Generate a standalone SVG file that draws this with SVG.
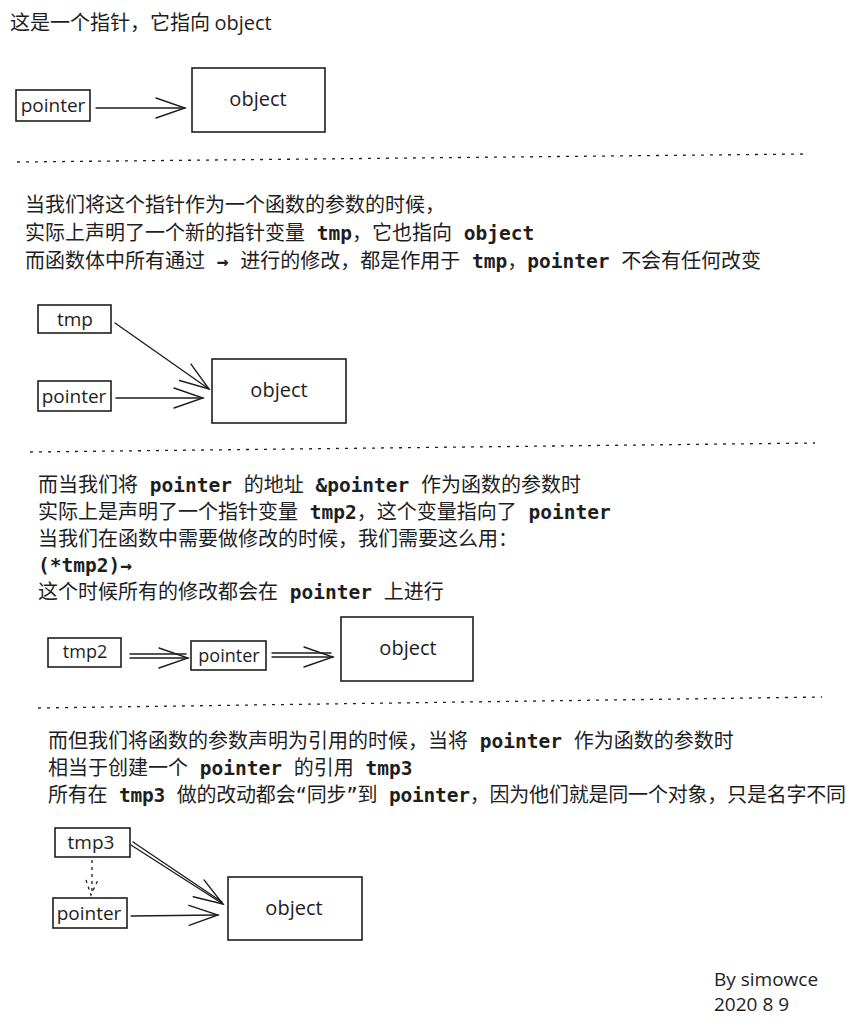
<svg xmlns="http://www.w3.org/2000/svg" width="865" height="1030" viewBox="0 0 865 1030">
<defs>
<style>
.t{font-family:"Noto Sans CJK SC","Noto Sans CJK JP",sans-serif;font-size:20px;fill:#1e1e1e;white-space:pre}
.m{font-family:"DejaVu Sans Mono","Liberation Mono",monospace;font-weight:bold;font-size:19.5px}
.q{font-family:"DejaVu Sans Mono","Liberation Mono",monospace;font-size:19px}
.h{font-family:"Open Sans","Liberation Sans",sans-serif;fill:#1e1e1e;text-anchor:middle}
.box{fill:none;stroke:#1e1e1e;stroke-width:1.6}
.ln{fill:none;stroke:#1e1e1e;stroke-width:1.4;stroke-linecap:round}
.sep{fill:none;stroke:#1e1e1e;stroke-width:1.3;stroke-dasharray:3 6}
.dot{fill:none;stroke:#1e1e1e;stroke-width:1.3;stroke-dasharray:3 4}
</style>
<marker id="ah" viewBox="-32 -13 34 26" refX="0" refY="0" markerWidth="34" markerHeight="26" markerUnits="userSpaceOnUse" orient="auto">
<path d="M-29,-10 L0,0 L-29,10" fill="none" stroke="#1e1e1e" stroke-width="1.4" stroke-linecap="round"/>
</marker>
</defs>

<text class="t" x="10" y="30" style="font-size:20px">这是一个指针，它指向 <tspan class="h" style="text-anchor:start;font-size:20px">object</tspan></text>

<g id="n1-pointer"><rect class="box" x="16" y="90" width="74" height="31"/><text class="h" x="53" y="112" font-size="19">pointer</text></g>
<g id="n1-object"><rect class="box" x="192" y="68" width="133" height="64"/><text class="h" x="258" y="106" font-size="20">object</text></g>

<line class="sep" x1="17" y1="162" x2="805" y2="154"/>

<text class="t" x="25" y="212">当我们将这个指针作为一个函数的参数的时候，</text>
<text class="t" x="25" y="240">实际上声明了一个新的指针变量<tspan class="m"> tmp</tspan>，它也指向<tspan class="m"> object</tspan></text>
<text class="t" x="25" y="268">而函数体中所有通过<tspan class="m"> → </tspan>进行的修改，都是作用于<tspan class="m"> tmp</tspan>，<tspan class="m">pointer </tspan>不会有任何改变</text>

<g id="n2-tmp"><rect class="box" x="38" y="305" width="73" height="28"/><text class="h" x="75" y="326" font-size="19">tmp</text></g>
<g id="n2-pointer"><rect class="box" x="38" y="381" width="73" height="30"/><text class="h" x="74" y="403" font-size="19">pointer</text></g>
<g id="n2-object"><rect class="box" x="212" y="359" width="134" height="64"/><text class="h" x="279" y="397" font-size="20">object</text></g>

<line class="sep" x1="30" y1="452" x2="815" y2="443"/>

<text class="t" x="38" y="492">而当我们将<tspan class="m"> pointer </tspan>的地址<tspan class="m"> &amp;pointer </tspan>作为函数的参数时</text>
<text class="t" x="38" y="519">实际上是声明了一个指针变量<tspan class="m"> tmp2</tspan>，这个变量指向了<tspan class="m"> pointer</tspan></text>
<text class="t" x="38" y="546">当我们在函数中需要做修改的时候，我们需要这么用：</text>
<text class="t" x="38" y="572"><tspan class="m">(*tmp2)→</tspan></text>
<text class="t" x="38" y="599">这个时候所有的修改都会在<tspan class="m"> pointer </tspan>上进行</text>

<g id="n3-tmp2"><rect class="box" x="48" y="638" width="73" height="29"/><text class="h" x="85" y="658" font-size="18">tmp2</text></g>
<g id="n3-pointer"><rect class="box" x="191" y="641" width="75" height="29"/><text class="h" x="229" y="662" font-size="18">pointer</text></g>
<g id="n3-object"><rect class="box" x="341" y="617" width="132" height="64"/><text class="h" x="408" y="655" font-size="20">object</text></g>

<line class="sep" x1="38" y1="708" x2="822" y2="697"/>

<text class="t" x="48" y="748">而但我们将函数的参数声明为引用的时候，当将<tspan class="m"> pointer </tspan>作为函数的参数时</text>
<text class="t" x="48" y="775">相当于创建一个<tspan class="m"> pointer </tspan>的引用<tspan class="m"> tmp3</tspan></text>
<text class="t" x="48" y="802" style="letter-spacing:-0.2px">所有在<tspan class="m"> tmp3 </tspan>做的改动都会<tspan class="q">“</tspan>同步<tspan class="q">”</tspan>到<tspan class="m"> pointer</tspan>，因为他们就是同一个对象，只是名字不同</text>

<g id="n4-tmp3"><rect class="box" x="55" y="828" width="75" height="29"/><text class="h" x="91" y="849" font-size="19">tmp3</text></g>
<g id="n4-pointer"><rect class="box" x="53" y="898" width="74" height="30"/><text class="h" x="89" y="920" font-size="19">pointer</text></g>
<g id="n4-object"><rect class="box" x="228" y="877" width="134" height="63"/><text class="h" x="294" y="915" font-size="20">object</text></g>

<g id="connectors">
<line class="ln" x1="96" y1="108" x2="185" y2="108" marker-end="url(#ah)"/>
<line class="ln" x1="115" y1="323" x2="209" y2="389" marker-end="url(#ah)"/>
<line class="ln" x1="116" y1="398" x2="203" y2="398" marker-end="url(#ah)"/>
<line class="ln" x1="130" y1="654" x2="186" y2="654"/>
<line class="ln" x1="130" y1="658" x2="188" y2="658" marker-end="url(#ah)"/>
<line class="ln" x1="272" y1="653" x2="331" y2="653"/>
<line class="ln" x1="272" y1="657" x2="333" y2="657" marker-end="url(#ah)"/>
<line class="ln" x1="133" y1="842" x2="222" y2="902"/>
<line class="ln" x1="131" y1="845" x2="223" y2="904" marker-end="url(#ah)"/>
<line class="ln" x1="131" y1="916" x2="218" y2="915" marker-end="url(#ah)"/>
<line class="dot" x1="92" y1="860" x2="92" y2="895"/>
<path class="dot" d="M86,880 L91,895 L98,880"/>
</g>

<text class="h" x="714" y="986" font-size="19" style="text-anchor:start">By simowce</text>
<text class="h" x="714" y="1011" font-size="19" style="text-anchor:start">2020 8 9</text>
</svg>
